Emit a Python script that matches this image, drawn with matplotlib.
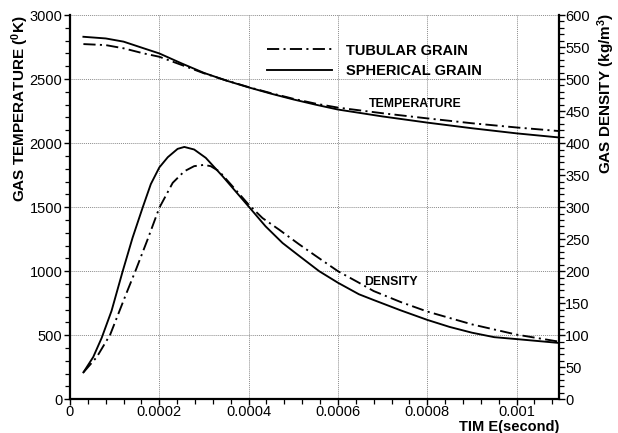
import matplotlib
matplotlib.use("Agg")
import matplotlib.pyplot as plt
from matplotlib.ticker import MultipleLocator
from matplotlib.lines import Line2D

plt.rcParams['font.family'] = ['Liberation Sans', 'DejaVu Sans']
plt.rcParams['mathtext.fontset'] = 'custom'
plt.rcParams['mathtext.rm'] = 'Liberation Sans:bold'
plt.rcParams['mathtext.default'] = 'rm'

# ---- data ----
time_temp = [0.00003, 0.00008, 0.00012, 0.000165, 0.0002, 0.00025, 0.0003, 0.00035,
             0.0004, 0.00045, 0.0005, 0.00055, 0.0006, 0.0007, 0.0008, 0.0009,
             0.001, 0.001095]
temp_spherical = [2830, 2817, 2792, 2740, 2700, 2622, 2548, 2488,
                  2435, 2386, 2341, 2300, 2262, 2208, 2160, 2116,
                  2076, 2044]
temp_tubular = [2773, 2765, 2740, 2700, 2674, 2610, 2545, 2489,
                2437, 2390, 2346, 2308, 2277, 2233, 2193, 2155,
                2122, 2094]

time_dens_sph = [0.00003, 0.000052, 0.000071, 0.000093, 0.000118, 0.00014, 0.000163,
                 0.000181, 0.0002, 0.000219, 0.000241, 0.000256, 0.000278, 0.000304,
                 0.000342, 0.000379, 0.0004, 0.000438, 0.000476, 0.000513, 0.000558,
                 0.0006, 0.000647, 0.00068, 0.00074, 0.0008, 0.00085, 0.0009,
                 0.00095, 0.001, 0.001095]
dens_spherical = [42, 66, 96, 138, 200, 252, 300,
                  336, 362, 378, 391, 394, 390, 377,
                  348, 318, 301, 270, 244, 224, 200,
                  182, 164, 155, 139, 124, 113, 104,
                  97, 94, 88]

time_dens_tub = [0.00003, 0.00006, 0.00009, 0.000126, 0.000148, 0.000174, 0.0002,
                 0.00023, 0.000256, 0.000278, 0.0003, 0.000315, 0.000334, 0.000371,
                 0.0004, 0.000431, 0.000468, 0.000513, 0.00055, 0.0006, 0.000647,
                 0.00068, 0.00074, 0.0008, 0.00085, 0.0009, 0.00095, 0.001, 0.001095]
dens_tubular = [42, 66, 101, 165, 203, 250, 299,
                338, 356, 364, 366, 364, 356, 327,
                304, 283, 265, 242, 224, 200, 182,
                169, 152, 137, 127, 117, 109, 101, 90]

legend_labels = ["TUBULAR GRAIN", "SPHERICAL GRAIN"]
x_ticks = [0, 0.0002, 0.0004, 0.0006, 0.0008, 0.001]
x_tick_labels = ["0", "0.0002", "0.0004", "0.0006", "0.0008", "0.001"]

# ---- figure ----
fig = plt.figure(figsize=(6.18, 4.33), dpi=100)
ax = fig.add_axes([70/618, 1-399.3/433, (559-70)/618, (399.3-15)/433])
ax2 = ax.twinx()

dashdot = (0, (6.5, 2.3, 1.1, 2.3))
lw = 1.35
ax.plot(time_temp, temp_tubular, color='black', lw=lw, linestyle=dashdot, zorder=3)
ax.plot(time_temp, temp_spherical, color='black', lw=lw, linestyle='-', zorder=3)
ax2.plot(time_dens_tub, dens_tubular, color='black', lw=lw, linestyle=dashdot, zorder=3)
ax2.plot(time_dens_sph, dens_spherical, color='black', lw=lw, linestyle='-', zorder=3)

ax.set_xlim(0, 0.001095)
ax.set_ylim(0, 3000)
ax2.set_ylim(0, 600)

ax.set_xticks(x_ticks)
ax.set_xticklabels(x_tick_labels)
ax.xaxis.set_minor_locator(MultipleLocator(0.00004))
ax.yaxis.set_major_locator(MultipleLocator(500))
ax.yaxis.set_minor_locator(MultipleLocator(100))
ax2.yaxis.set_major_locator(MultipleLocator(50))
ax2.yaxis.set_minor_locator(MultipleLocator(10))

ax.grid(True, which='major', linestyle=(0, (1, 1)), color='#8c8c8c', lw=0.7)

for a in (ax, ax2):
    a.spines['top'].set_visible(False)
    for s in ('left', 'right', 'bottom'):
        a.spines[s].set_linewidth(1.6)
ax.spines['right'].set_visible(False)
ax2.spines['left'].set_visible(False)
ax2.spines['bottom'].set_visible(False)

ax.tick_params(axis='both', which='major', direction='out', length=4, width=1.0,
               labelsize=10.5, pad=1.5, colors='black')
ax.tick_params(axis='x', which='major', pad=0.3)
ax.tick_params(axis='both', which='minor', direction='out', length=3.5, width=0.9)
ax.tick_params(axis='x', top=False)
ax.tick_params(axis='y', right=False)
ax2.tick_params(axis='y', which='major', direction='out', length=4, width=1.0,
                labelsize=10.5, pad=0.5)
ax2.tick_params(axis='y', which='minor', direction='out', length=3.5, width=0.9)

# legend
handles = [Line2D([], [], color='black', lw=lw, linestyle=dashdot),
           Line2D([], [], color='black', lw=lw, linestyle='-')]
leg = ax.legend(handles, legend_labels, loc='upper left',
                bbox_to_anchor=((266.7-70)/489, (399.3-43.5)/384.3),
                frameon=False, borderpad=0, borderaxespad=0,
                handlelength=4.5, handletextpad=0.95, labelspacing=0.42,
                prop={'weight': 'bold', 'size': 10.5})

ax.text(0.000669, 2305, "TEMPERATURE", fontsize=8.8, fontweight='bold',
        ha='left', va='center')
ax.text(0.000659, 916, "DENSITY", fontsize=8.8, fontweight='bold',
        ha='left', va='center')

fig.text(20/618, 1-15/433, r"GAS TEMPERATURE ($^{0}$K)", rotation=90,
         ha='center', va='top', fontsize=11, fontweight='bold')
fig.text(606/618, 1-13/433, "GAS DENSITY (kg/m$^{3}$)", rotation=90,
         ha='center', va='top', fontsize=11, fontweight='bold')
fig.text(559.7/618, 1-431/433, "TIM E(second)", ha='right', va='baseline',
         fontsize=10.5, fontweight='bold')

fig.savefig("out.png", dpi=100)
